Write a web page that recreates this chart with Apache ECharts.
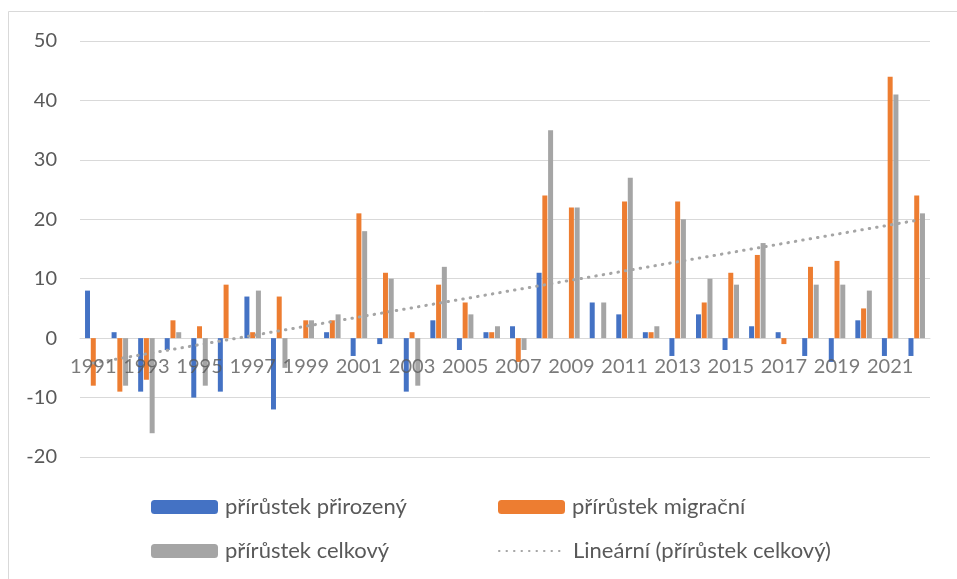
<!DOCTYPE html>
<html>
<head>
<meta charset="utf-8">
<script src="https://cdn.jsdelivr.net/npm/echarts@6/dist/echarts.min.js"></script>
<style>
html,body{margin:0;padding:0;background:#fff;}
#chart{width:957px;height:579px;}
</style>
</head>
<body>
<div id="chart"></div>
<script>
var years = ['1991','1992','1993','1994','1995','1996','1997','1998','1999','2000','2001','2002','2003','2004','2005','2006','2007','2008','2009','2010','2011','2012','2013','2014','2015','2016','2017','2018','2019','2020','2021','2022'];
var natural = [8,1,-9,-2,-10,-9,7,-12,0,1,-3,-1,-9,3,-2,1,2,11,0,6,4,1,-3,4,-2,2,1,-3,-4,3,-3,-3];
var migration = [-8,-9,-7,3,2,9,1,7,3,3,21,11,1,9,6,1,-4,24,22,0,23,1,23,6,11,14,-1,12,13,5,44,24];
var total = [0,-8,-16,1,-8,0,8,-5,3,4,18,10,-8,12,4,2,-2,35,22,6,27,2,20,10,9,16,0,9,9,8,41,21];
var yTicks = [-20,-10,0,10,20,30,40,50];
var names = ['přírůstek přirozený','přírůstek migrační','přírůstek celkový','Lineární (přírůstek celkový)'];

// least-squares linear trend of the total series (as Excel's linear trendline)
var n = total.length, sx=0, sy=0, sxy=0, sxx=0;
for (var i=0;i<n;i++){var x=i+1; sx+=x; sy+=total[i]; sxy+=x*total[i]; sxx+=x*x;}
var slope = (n*sxy - sx*sy)/(n*sxx - sx*sx);
var icpt = (sy - slope*sx)/n;
var trend = total.map(function(v,i){return +(icpt + slope*(i+1)).toFixed(3);});

var FONT = 'Lato';
var TXT = '#595959';
var yMin = yTicks[0], yMax = yTicks[yTicks.length-1];

var chart = echarts.init(document.getElementById('chart'), null, {renderer:'canvas'});
function leg(item, left, top){
  return {data:[item], left:left, top:top, itemWidth:67, itemHeight:14, itemGap:0,
    textStyle:{fontFamily:FONT, fontSize:22, color:TXT, padding:[0,0,0,2]}, selectedMode:false, padding:0};
}
var option = {
  animation:false,
  backgroundColor:'#fff',
  tooltip:{show:false},
  graphic:[{type:'rect', shape:{x:8.5,y:11.5,width:1000,height:1000}, style:{fill:'none', stroke:'#d9d9d9', lineWidth:1}, silent:true, z:-10}],
  grid:{left:80, right:27, top:41, bottom:122, containLabel:false},
  legend:[leg(names[0],151,496), leg(names[1],498,496), leg(names[2],151,540),
          leg({name:names[3], itemStyle:{opacity:0}}, 498, 540)],
  xAxis:{type:'category', data:years,
    axisLine:{onZero:true, lineStyle:{color:'#d9d9d9', width:1}},
    axisTick:{show:false},
    axisLabel:{show:false},
    splitLine:{show:false}},
  yAxis:{type:'value', min:yMin, max:yMax, interval:10,
    axisLine:{show:false}, axisTick:{show:false},
    axisLabel:{fontFamily:FONT, fontSize:20, color:TXT, margin:23},
    splitLine:{lineStyle:{color:'#d9d9d9', width:1}}},
  series:[
    {name:names[0], type:'bar', data:natural, barWidth:5, barGap:'15%', itemStyle:{color:'#4472C4'}},
    {name:names[1], type:'bar', data:migration, barWidth:5, barGap:'15%', itemStyle:{color:'#ED7D31'}},
    {name:names[2], type:'bar', data:total, barWidth:5, barGap:'15%', itemStyle:{color:'#A5A5A5'}},
    {name:names[3], type:'line', data:trend, symbol:'none', z:5,
      lineStyle:{color:'#A5A5A5', width:3, type:[0.5,7], cap:'round'},
      itemStyle:{color:'#A5A5A5'}},
    // category labels on the zero line, drawn above the bars (as in the original)
    {name:'_axislabels', type:'scatter', z:20, silent:true, symbolSize:0,
      data:years.map(function(y){return [y,0];}),
      label:{show:true, position:'bottom', distance:18, fontFamily:FONT, fontSize:20, color:TXT,
        formatter:function(p){return p.dataIndex % 2 === 0 ? p.value[0] : '';}},
      labelLayout:{hideOverlap:false}}
  ]
};
chart.setOption(option);
</script>
</body>
</html>
